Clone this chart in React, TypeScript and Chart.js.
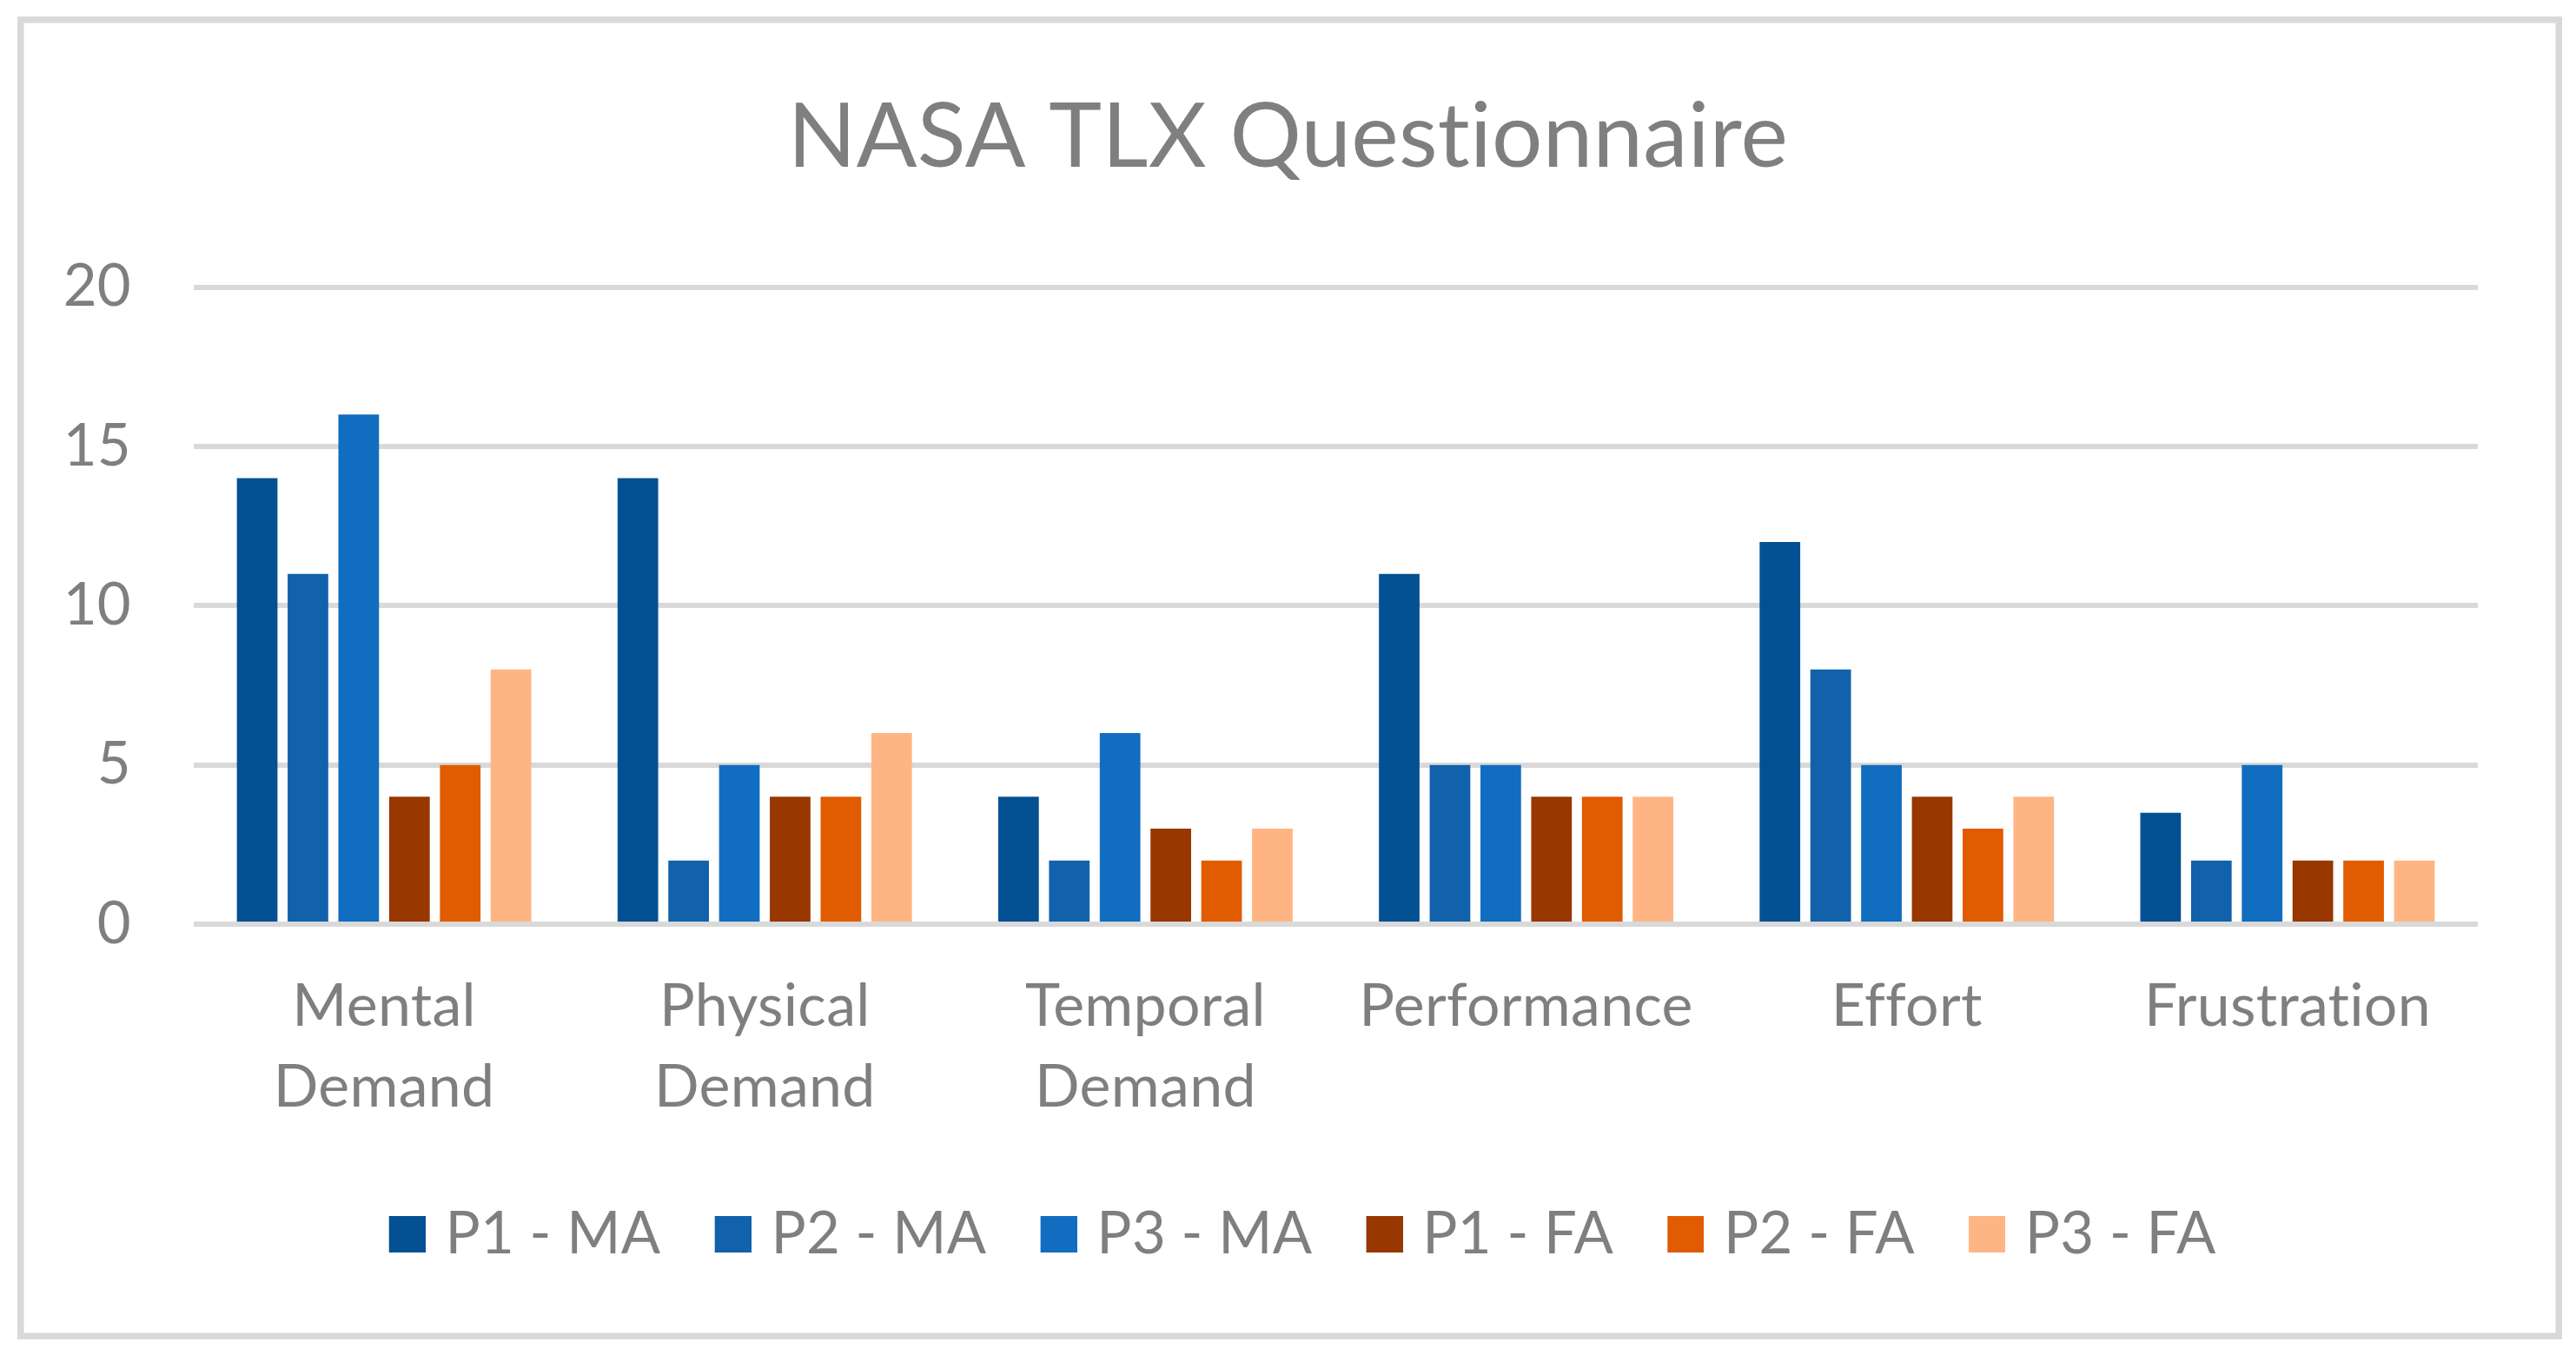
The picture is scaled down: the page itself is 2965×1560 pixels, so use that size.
import React, { useEffect, useRef } from 'react';
import { Chart, registerables } from 'chart.js';

Chart.register(...registerables);

const categories: (string | string[])[] = [
  ['Mental', 'Demand'],
  ['Physical', 'Demand'],
  ['Temporal', 'Demand'],
  'Performance',
  'Effort',
  'Frustration',
];
const seriesNames = ['P1 - MA', 'P2 - MA', 'P3 - MA', 'P1 - FA', 'P2 - FA', 'P3 - FA'];
const p1MA = [14, 14, 4, 11, 12, 3.5];
const p2MA = [11, 2, 2, 5, 8, 2];
const p3MA = [16, 5, 6, 5, 5, 5];
const p1FA = [4, 4, 3, 4, 4, 2];
const p2FA = [5, 4, 2, 4, 3, 2];
const p3FA = [8, 6, 3, 4, 4, 2];
const seriesColors = ['#035192', '#1161AB', '#116DBF', '#983700', '#E15B00', '#FFB583'];
const yTicks = [0, 5, 10, 15, 20];
const titleText = 'NASA TLX Questionnaire';

const W = 2965;
const H = 1560;
const TEXT = '#7F7F7F';
const GRID = '#D9D9D9';
const FONT = 'Lato';

const noLigaturePlugin = {
  id: 'noLigatures',
  beforeUpdate(chart: any) {
    (chart.ctx as any).letterSpacing = '0.3px';
  },
  beforeDraw(chart: any) {
    (chart.ctx as any).letterSpacing = '0.3px';
  },
};

const borderPlugin = {
  id: 'outerBorder',
  afterDraw(chart: any) {
    const ctx = chart.ctx;
    ctx.save();
    ctx.strokeStyle = GRID;
    ctx.lineWidth = 7.5;
    ctx.strokeRect(23.75, 22.75, 2921.5, 1515.5);
    ctx.restore();
  },
};

function makeSwatch(color: string): HTMLCanvasElement {
  // transparent left part, 42x42 colored square on the right
  const c = document.createElement('canvas');
  c.width = 86;
  c.height = 42;
  const g = c.getContext('2d') as CanvasRenderingContext2D;
  g.fillStyle = color;
  g.fillRect(44, 0, 42, 42);
  return c;
}

export default function App() {
  const ref = useRef<HTMLCanvasElement | null>(null);
  useEffect(() => {
    document.body.style.margin = '0';
    const values = [p1MA, p2MA, p3MA, p1FA, p2FA, p3FA];
    const swatches = seriesColors.map(makeSwatch);
    const defaultLabels = (Chart as any).defaults.plugins.legend.labels.generateLabels;
    const chart = new Chart(ref.current as HTMLCanvasElement, {
      type: 'bar',
      data: {
        labels: categories,
        datasets: seriesNames.map((name, i) => ({
          label: name,
          data: values[i],
          backgroundColor: seriesColors[i],
          borderWidth: 0,
          categoryPercentage: 0.8,
          barPercentage: 0.8,
        })),
      },
      options: {
        responsive: false,
        animation: false,
        devicePixelRatio: 1,
        layout: { padding: { left: 0, right: 0, top: 0, bottom: 95.5 } },
        plugins: {
          title: {
            display: true,
            text: titleText,
            color: TEXT,
            font: { family: FONT, size: 103, weight: 'normal', lineHeight: 1.2 },
            padding: { top: 97, bottom: 110 },
          },
          legend: {
            position: 'bottom',
            labels: {
              color: TEXT,
              font: { family: FONT, size: 67 },
              usePointStyle: true,
              pointStyleWidth: 64.5,
              boxWidth: 42,
              boxHeight: 42,
              padding: 29,
              generateLabels: (c: any) =>
                defaultLabels(c).map((it: any, i: number) => ({ ...it, pointStyle: swatches[i] })),
            },
          },
          tooltip: { enabled: false },
        },
        scales: {
          x: {
            grid: { display: false },
            border: { display: false },
            ticks: {
              color: TEXT,
              font: { family: FONT, size: 68, lineHeight: 1.36 },
              padding: 41,
              maxRotation: 0,
              autoSkip: false,
            },
            afterFit: (s: any) => {
              s.height = 294.5;
            },
          },
          y: {
            min: 0,
            max: 20,
            grid: { color: GRID, lineWidth: 6, drawTicks: false },
            border: { display: false },
            ticks: {
              color: TEXT,
              font: { family: FONT, size: 67 },
              padding: 72,
            },
            afterBuildTicks: (s: any) => {
              s.ticks = yTicks.map((v) => ({ value: v }));
            },
            afterFit: (s: any) => {
              s.width = 223;
            },
          },
          y2: {
            position: 'right',
            display: true,
            grid: { display: false },
            border: { display: false },
            ticks: { display: false },
            afterFit: (s: any) => {
              s.width = 113;
            },
          },
        },
      },
      plugins: [noLigaturePlugin, borderPlugin],
    });
    return () => chart.destroy();
  }, []);
  return (
    <div style={{ position: 'absolute', left: 0, top: 0, width: W, height: H, background: '#fff' }}>
      <canvas ref={ref} width={W} height={H} style={{ width: W, height: H, display: 'block' }} />
    </div>
  );
}
